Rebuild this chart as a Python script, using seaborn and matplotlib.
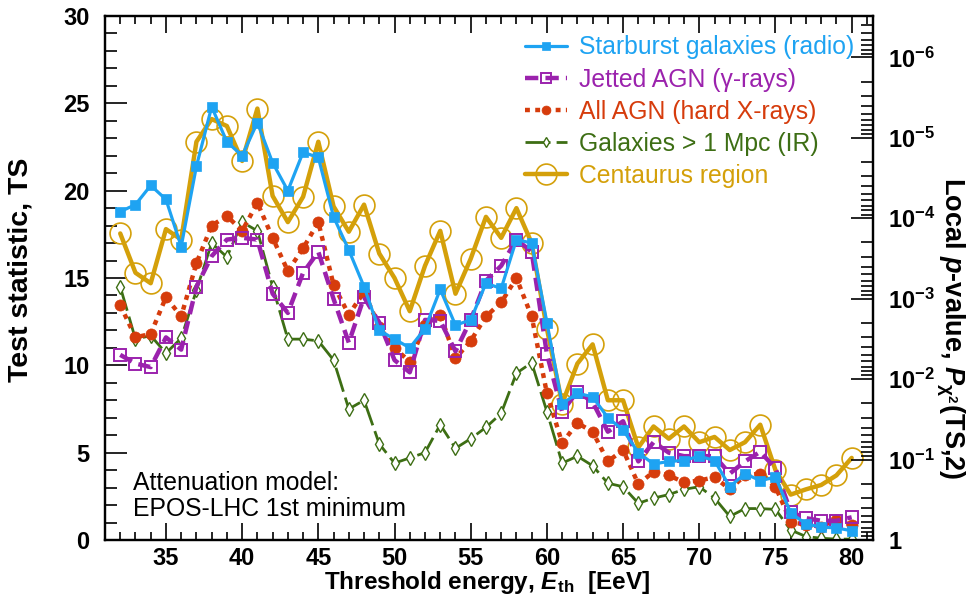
import numpy as np
import pandas as pd
import matplotlib
matplotlib.use("Agg")
import matplotlib.pyplot as plt
from matplotlib.lines import Line2D
from matplotlib.ticker import MultipleLocator, FixedLocator, NullFormatter
import seaborn as sns

# ---------------- data ----------------
energy = list(range(32, 81))

starburst = [18.8, 19.2, 20.3, 19.5, 16.8, 21.4, 24.8, 22.8, 22.0, 23.9,
             21.6, 20.0, 22.2, 21.9, 18.5, 16.6, 14.5, 12.0, 11.5, 11.0,
             12.1, 14.35, 12.3, 12.6, 14.7, 14.4, 17.2, 17.0, 12.45, 7.8,
             8.4, 8.2, 7.0, 6.3, 5.0, 4.35, 4.5, 4.55, 4.8, 4.55,
             3.05, 3.8, 3.4, 3.6, 1.55, 0.92, 0.74, 0.69, 0.53]

jetted_agn = [10.6, 10.1, 9.9, 11.6, 10.9, 14.5, 16.25, 17.2, 17.3, 17.2,
              14.1, 13.0, 15.3, 16.5, 13.8, 11.3, 13.9, 12.45, 10.3, 9.6,
              12.6, 12.55, 10.8, 12.6, 14.85, 15.7, 17.2, 16.5, 10.65, 7.35,
              8.5, 7.9, 6.2, 6.8, 4.5, 5.6, 5.0, 4.8, 4.8, 4.8,
              3.8, 4.5, 5.05, 4.1, 1.6, 1.25, 1.1, 1.1, 1.3]

all_agn = [13.45, 11.6, 11.8, 13.9, 12.8, 15.85, 18.0, 18.55, 17.7, 19.3,
           17.3, 15.4, 16.7, 18.2, 14.6, 12.9, 14.2, 12.2, 11.0, 10.2,
           12.3, 12.9, 10.4, 11.4, 12.8, 13.6, 15.0, 12.8, 8.4, 5.55,
           6.7, 6.2, 4.5, 5.15, 3.2, 3.9, 3.7, 3.3, 3.4, 3.6,
           2.9, 3.7, 3.8, 3.05, 1.05, 0.86, 0.76, 1.15, 0.86]

galaxies_ir = [14.5, 11.5, 11.7, 10.7, 11.55, 14.3, 17.0, 16.2, 18.2, 17.7,
               14.5, 11.5, 11.5, 11.4, 10.3, 7.5, 8.0, 5.5, 4.4, 4.7,
               5.0, 6.6, 5.25, 5.8, 6.45, 7.25, 9.55, 10.15, 7.35, 4.4,
               4.8, 4.25, 3.25, 3.05, 2.1, 2.4, 2.6, 2.9, 3.05, 2.4,
               1.35, 1.8, 1.8, 1.75, 0.57, 0.2, 0.1, 0.05, 0.05]

centaurus = [17.55, 15.3, 14.7, 17.8, 17.2, 22.8, 24.1, 23.7, 21.7, 24.7,
             19.7, 18.2, 19.65, 22.8, 19.1, 17.65, 19.2, 16.4, 15.0, 13.1,
             15.7, 17.7, 14.1, 16.1, 18.5, 17.3, 19.0, 17.0, 12.1, 7.8,
             10.1, 11.2, 8.0, 8.0, 5.3, 6.5, 5.8, 6.5, 5.6, 5.9,
             5.15, 5.6, 6.6, 4.0, 2.6, 2.9, 3.15, 3.7, 4.7]

labels = ["Starburst galaxies (radio)", "Jetted AGN (γ-rays)",
          "All AGN (hard X-rays)", "Galaxies > 1 Mpc (IR)", "Centaurus region"]

pvalue_exponents = [0, 1, 2, 3, 4, 5, 6]
pvalue_labels = ["1", r"$\mathbf{10^{-1}}$", r"$\mathbf{10^{-2}}$", r"$\mathbf{10^{-3}}$",
                 r"$\mathbf{10^{-4}}$", r"$\mathbf{10^{-5}}$", r"$\mathbf{10^{-6}}$"]

# ---------------- style ----------------
sns.set_theme(style="ticks")
plt.rcParams["font.family"] = ["Liberation Sans", "DejaVu Sans"]
plt.rcParams["mathtext.fontset"] = "custom"
plt.rcParams["mathtext.rm"] = "Liberation Sans"
plt.rcParams["mathtext.it"] = "Liberation Sans:italic"
plt.rcParams["mathtext.bf"] = "Liberation Sans:bold"
plt.rcParams["mathtext.bfit"] = "Liberation Sans:bold:italic"
plt.rcParams["text.color"] = "black"
plt.rcParams["axes.labelcolor"] = "black"
plt.rcParams["xtick.color"] = "black"
plt.rcParams["ytick.color"] = "black"

c_blue = "#1ea3f2"
c_purple = "#9b22ad"
c_red = "#d63c0c"
c_green = "#3d6e14"
c_gold = "#d4a00a"

FS_TICK = 17
FS_XLAB = 17.5
FS_YLAB = 20.5
FS_RLAB = 19.5
FS_LEG = 17.8

fig = plt.figure(figsize=(9.68, 6.06), dpi=100)
ax = fig.add_axes([105 / 968, 66 / 606, 768 / 968, 524 / 606])

df = pd.DataFrame({"E": energy, "sb": starburst, "jet": jetted_agn,
                   "agn": all_agn, "gal": galaxies_ir, "cen": centaurus})

specs = {
    "cen": dict(color=c_gold, lw=3.2, marker="o", ms=15, mfc="none", mec=c_gold, mew=1.2, zorder=2),
    "gal": dict(color=c_green, lw=2.0, marker="d", ms=7, mfc="white", mec=c_green, mew=1.0, zorder=3),
    "agn": dict(color=c_red, lw=3.2, marker="o", ms=8, mfc=c_red, mec=c_red, mew=0.5, zorder=4),
    "jet": dict(color=c_purple, lw=3.2, marker="s", ms=8.5, mfc="none", mec=c_purple, mew=1.4, zorder=5),
    "sb": dict(color=c_blue, lw=2.3, marker="s", ms=7.5, mfc=c_blue, mec=c_blue, mew=0.5, zorder=6),
}
dashes = {"cen": None, "gal": (9, 2.2), "agn": (1.1, 1.2), "jet": (3.0, 1.6), "sb": None}

for key in ["cen", "gal", "agn", "jet", "sb"]:
    sp = specs[key]
    sns.lineplot(data=df, x="E", y=key, ax=ax, color=sp["color"], linewidth=sp["lw"],
                 marker=sp["marker"], markersize=sp["ms"], markerfacecolor=sp["mfc"],
                 markeredgecolor=sp["mec"], markeredgewidth=sp["mew"], zorder=sp["zorder"])
    ln = ax.lines[-1]
    if dashes[key] is not None:
        ln.set_dashes(dashes[key])
        ln.set_dash_capstyle("butt")

ax.set_xlim(31.0, 81.4)
ax.set_ylim(0, 30)
ax.xaxis.set_major_locator(MultipleLocator(5))
ax.xaxis.set_minor_locator(MultipleLocator(1))
ax.yaxis.set_major_locator(MultipleLocator(5))
ax.yaxis.set_minor_locator(MultipleLocator(1))
ax.set_xticks(range(35, 81, 5))

for s in ax.spines.values():
    s.set_linewidth(1.6)
    s.set_color("black")

ax.tick_params(axis="x", which="both", direction="in", top=True, bottom=True,
               width=1.2, labelsize=FS_TICK, pad=5, colors="black")
ax.tick_params(axis="x", which="major", length=12)
ax.tick_params(axis="x", which="minor", length=6)
ax.tick_params(axis="y", which="both", direction="in", left=True, right=False,
               width=1.2, labelsize=FS_TICK, pad=11, colors="black")
ax.tick_params(axis="y", which="major", length=16)
ax.tick_params(axis="y", which="minor", length=8.5)
for lab in ax.get_xticklabels() + ax.get_yticklabels():
    lab.set_fontweight("bold")

ax.set_xlabel(r"Threshold energy, $\mathbfit{E}_{\mathbf{th}}$  [EeV]", fontsize=FS_XLAB,
              fontweight="bold", va="center", color="black")
ax.xaxis.set_label_coords(0.497, -0.082)
ax.set_ylabel("Test statistic, TS", fontsize=FS_YLAB, fontweight="bold", color="black",
              rotation=90, va="center", ha="center", rotation_mode="default")
ax.yaxis.set_label_coords(-0.110, 0.515)

# ---------------- right axis: local p-value ----------------
ax2 = ax.twinx()
ax2.set_ylim(0, 30)
major_ts = [2 * n * np.log(10) for n in pvalue_exponents]
minor_ts = []
for n in range(0, 7):
    for k in range(2, 10):
        t = -2 * np.log(k * 10.0 ** (-(n + 1)))
        if 0 < t < 30:
            minor_ts.append(t)
ax2.yaxis.set_major_locator(FixedLocator(major_ts))
ax2.yaxis.set_minor_locator(FixedLocator(minor_ts))
ax2.yaxis.set_minor_formatter(NullFormatter())
ax2.set_yticklabels(pvalue_labels)
ax2.tick_params(axis="y", which="both", direction="in", right=True, left=False,
                width=1.2, labelsize=FS_TICK, pad=11, colors="black")
ax2.tick_params(axis="y", which="major", length=16)
ax2.tick_params(axis="y", which="minor", length=8.5)
for lab in ax2.get_yticklabels():
    lab.set_fontweight("bold")
for s in ax2.spines.values():
    s.set_linewidth(1.6)
    s.set_color("black")
ax2.set_ylabel(r"Local $\mathbfit{p}$-value, $\mathbfit{P}_{\mathbf{\chi^2}}$(TS,2)",
               fontsize=FS_RLAB, fontweight="bold", rotation=270, va="center", ha="center",
               rotation_mode="default", color="black")
ax2.yaxis.set_label_coords((950 - 105) / 768, 0.405)

# ---------------- legend ----------------
order = ["sb", "jet", "agn", "gal", "cen"]
colors = [c_blue, c_purple, c_red, c_green, c_gold]
handles = []
for key in order:
    sp = specs[key]
    h = Line2D([0], [0], color=sp["color"], lw=sp["lw"], marker=sp["marker"],
               ms=sp["ms"] * (0.8 if key != "cen" else 1.0), mfc=sp["mfc"], mec=sp["mec"],
               mew=sp["mew"])
    if dashes[key] is not None:
        h.set_dashes(dashes[key])
        h.set_dash_capstyle("butt")
    handles.append(h)
leg = ax.legend(handles, labels, loc="upper right", bbox_to_anchor=(0.975, 0.963),
                frameon=False, fontsize=FS_LEG, handlelength=1.7, handletextpad=0.45,
                labelspacing=0.33, borderaxespad=0, borderpad=0, labelcolor=colors)

ax.text(0.036, 0.036, "Attenuation model:\nEPOS-LHC 1st minimum", transform=ax.transAxes,
        fontsize=FS_LEG, ha="left", va="bottom", linespacing=1.1, color="black")

fig.savefig("out.png", dpi=100)
